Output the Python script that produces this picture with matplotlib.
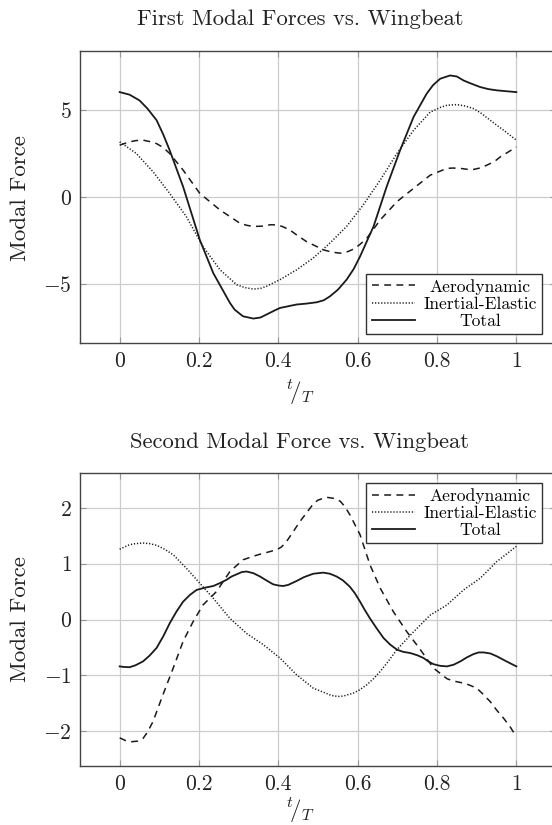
import matplotlib
matplotlib.use("Agg")
import matplotlib.pyplot as plt

plt.rcParams['font.family'] = 'serif'
plt.rcParams['font.serif'] = ['cmr10', 'DejaVu Serif']
plt.rcParams['mathtext.fontset'] = 'cm'
plt.rcParams['axes.formatter.use_mathtext'] = True
plt.rcParams['axes.unicode_minus'] = False

# first mode: t/T samples and modal force of each contribution
t1_total = [0, 0.025, 0.05, 0.07, 0.093, 0.11, 0.126, 0.16, 0.202, 0.236, 0.278, 0.29,
            0.311, 0.337, 0.355, 0.37, 0.39, 0.404, 0.425, 0.446, 0.47, 0.497, 0.515,
            0.53, 0.55, 0.572, 0.59, 0.606, 0.64, 0.673, 0.707, 0.741, 0.774, 0.79,
            0.808, 0.833, 0.85, 0.867, 0.885, 0.909, 0.93, 0.951, 0.975, 1.0]
f1_total = [6.05, 5.9, 5.57, 5.1, 4.43, 3.6, 2.7, 0.59, -2.47, -4.39, -6.11, -6.5,
            -6.88, -7.01, -6.95, -6.78, -6.55, -6.4, -6.3, -6.2, -6.15, -6.07, -5.95,
            -5.73, -5.35, -4.77, -4.15, -3.43, -1.7, 0.59, 2.7, 4.62, 5.96, 6.45,
            6.82, 7.01, 6.95, 6.72, 6.55, 6.34, 6.22, 6.15, 6.1, 6.05]

t1_aero = [0, 0.025, 0.04, 0.059, 0.075, 0.093, 0.11, 0.126, 0.16, 0.202, 0.253, 0.303,
           0.32, 0.337, 0.36, 0.38, 0.396, 0.41, 0.429, 0.45, 0.471, 0.514, 0.535, 0.556,
           0.575, 0.589, 0.605, 0.623, 0.657, 0.699, 0.741, 0.783, 0.825, 0.84, 0.859,
           0.875, 0.892, 0.91, 0.926, 0.945, 0.96, 0.98, 1.0]
f1_aero = [2.99, 3.18, 3.25, 3.28, 3.2, 3.08, 2.85, 2.51, 1.55, 0.21, -0.75, -1.51,
           -1.63, -1.7, -1.68, -1.6, -1.61, -1.7, -1.9, -2.25, -2.57, -3.05, -3.18, -3.24,
           -3.15, -3.01, -2.75, -2.38, -1.32, -0.27, 0.5, 1.26, 1.65, 1.67, 1.65,
           1.6, 1.59, 1.68, 1.84, 2.05, 2.32, 2.6, 2.89]

t1_inert = [0, 0.042, 0.084, 0.126, 0.168, 0.21, 0.253, 0.295, 0.315, 0.337, 0.355, 0.37,
            0.404, 0.446, 0.488, 0.53, 0.572, 0.614, 0.657, 0.699, 0.741, 0.783, 0.81,
            0.825, 0.85, 0.87, 0.892, 0.91, 0.934, 0.95, 0.968, 1.0]
f1_inert = [3.18, 2.51, 1.46, 0.21, -1.13, -2.85, -4.2, -5.06, -5.22, -5.31, -5.27, -5.15,
            -4.77, -4.2, -3.52, -2.66, -1.7, -0.46, 0.98, 2.51, 3.85, 4.9, 5.18,
            5.29, 5.33, 5.25, 5.1, 4.85, 4.43, 4.15, 3.85, 3.28]

# second mode
t2_total = [0, 0.01, 0.025, 0.04, 0.059, 0.075, 0.093, 0.11, 0.126, 0.143, 0.16, 0.177,
            0.194, 0.215, 0.236, 0.252, 0.269, 0.282, 0.295, 0.308, 0.32, 0.337, 0.354,
            0.37, 0.387, 0.4, 0.412, 0.425, 0.446, 0.465, 0.488, 0.513, 0.53, 0.547,
            0.563, 0.58, 0.593, 0.606, 0.618, 0.631, 0.648, 0.665, 0.682, 0.699, 0.715,
            0.732, 0.75, 0.766, 0.778, 0.791, 0.808, 0.825, 0.842, 0.859, 0.875, 0.892,
            0.905, 0.918, 0.935, 0.951, 0.975, 1.0]
f2_total = [-0.84, -0.85, -0.855, -0.82, -0.75, -0.65, -0.51, -0.3, -0.07, 0.14, 0.32, 0.44,
            0.53, 0.57, 0.6, 0.65, 0.71, 0.77, 0.81, 0.85, 0.86, 0.83, 0.77,
            0.7, 0.63, 0.61, 0.6, 0.62, 0.69, 0.76, 0.82, 0.84, 0.82, 0.77,
            0.7, 0.59, 0.47, 0.32, 0.17, 0.02, -0.16, -0.33, -0.45, -0.54, -0.58,
            -0.6, -0.64, -0.69, -0.75, -0.8, -0.83, -0.84, -0.81, -0.75, -0.68, -0.62,
            -0.59, -0.59, -0.61, -0.66, -0.75, -0.84]

t2_aero = [0, 0.015, 0.029, 0.045, 0.059, 0.07, 0.084, 0.109, 0.135, 0.16, 0.185, 0.21,
           0.244, 0.278, 0.311, 0.34, 0.354, 0.37, 0.396, 0.408, 0.421, 0.455, 0.488,
           0.5, 0.522, 0.54, 0.556, 0.568, 0.58, 0.606, 0.631, 0.657, 0.69, 0.724,
           0.758, 0.791, 0.825, 0.84, 0.867, 0.88, 0.9, 0.915, 0.934, 0.95, 0.968,
           0.985, 1.0]
f2_aero = [-2.12, -2.17, -2.19, -2.18, -2.13, -2.02, -1.83, -1.35, -0.87, -0.39, -0.04, 0.26,
           0.5, 0.86, 1.07, 1.14, 1.17, 1.2, 1.25, 1.3, 1.4, 1.76, 2.07,
           2.14, 2.19, 2.17, 2.12, 2.02, 1.88, 1.52, 0.98, 0.56, 0.14, -0.22,
           -0.54, -0.87, -1.06, -1.1, -1.14, -1.17, -1.23, -1.33, -1.47, -1.62, -1.77,
           -1.93, -2.1]

t2_inert = [0, 0.025, 0.04, 0.059, 0.075, 0.093, 0.113, 0.135, 0.168, 0.202, 0.236, 0.278,
            0.32, 0.362, 0.404, 0.446, 0.488, 0.53, 0.54, 0.556, 0.57, 0.589, 0.605,
            0.623, 0.64, 0.657, 0.676, 0.699, 0.741, 0.783, 0.825, 0.867, 0.909, 0.951,
            1.0]
f2_inert = [1.26, 1.34, 1.36, 1.37, 1.36, 1.33, 1.26, 1.16, 0.92, 0.65, 0.38, 0.02,
            -0.25, -0.45, -0.69, -0.99, -1.23, -1.35, -1.37, -1.38, -1.36, -1.32, -1.26,
            -1.17, -1.06, -0.93, -0.76, -0.54, -0.22, 0.08, 0.26, 0.53, 0.74, 1.04,
            1.31]

labels = ['Aerodynamic', 'Inertial-Elastic', 'Total']
x_ticks = [0, 0.2, 0.4, 0.6, 0.8, 1]
y1_ticks = [-5, 0, 5]
y2_ticks = [-2, -1, 0, 1, 2]

W, H = 552, 825
fig = plt.figure(figsize=(W / 100, H / 100), dpi=100)


def make_axes(top_px, bottom_px):
    left, right = 80, 556
    return fig.add_axes([left / W, 1 - bottom_px / H, (right - left) / W, (bottom_px - top_px) / H])


def style(ax, yticks):
    ax.set_xlim(-0.1, 1.1)
    ax.set_xticks(x_ticks)
    ax.set_xticklabels(['0', '0.2', '0.4', '0.6', '0.8', '1'])
    ax.set_yticks(yticks)
    ax.grid(True, color='#cccccc', linewidth=0.9)
    ax.set_axisbelow(True)
    for s in ax.spines.values():
        s.set_color('#444444')
        s.set_linewidth(1.0)
    ax.spines['right'].set_visible(False)
    ax.tick_params(direction='in', length=4, width=0.8, color='#999999',
                   top=True, right=True, labelsize=15.5, pad=6, labelcolor='#222222')


def legend(ax, loc, anchor):
    leg = ax.legend(loc=loc, bbox_to_anchor=anchor, bbox_transform=fig.transFigure,
                    fontsize=12.6, frameon=True, fancybox=False, framealpha=1,
                    edgecolor='#333333', handlelength=2.5, handletextpad=0.45,
                    borderpad=0.3, labelspacing=0.1, borderaxespad=0)
    leg.get_frame().set_linewidth(1.0)
    # centre the entry texts like a tabular column
    fig.canvas.draw()
    r = fig.canvas.get_renderer()
    widths = [t.get_window_extent(r).width for t in leg.get_texts()]
    wmax = max(widths)
    for t, w in zip(leg.get_texts(), widths):
        t.set_position(((wmax - w) / 2, 0))
    return leg


def draw(ax, data):
    (ta, fa), (ti, fi), (tt, ft) = data
    ax.plot(ta, fa, color='#1a1a1a', linestyle=(0, (4.5, 3.5)), linewidth=1.1,
            label=labels[0], solid_joinstyle='round')
    ax.plot(ti, fi, color='#1a1a1a', linestyle=(0, (0.8, 1.2)), linewidth=1.1,
            label=labels[1], solid_joinstyle='round')
    ax.plot(tt, ft, color='#1a1a1a', linestyle='-', linewidth=1.3,
            label=labels[2], solid_joinstyle='round')


ax1 = make_axes(51, 343)
draw(ax1, [(t1_aero, f1_aero), (t1_inert, f1_inert), (t1_total, f1_total)])
style(ax1, y1_ticks)
ax1.set_ylim(-8.42, 8.42)
legend(ax1, 'lower right', (542 / W, 1 - 334 / H))

ax2 = make_axes(473, 766)
draw(ax2, [(t2_aero, f2_aero), (t2_inert, f2_inert), (t2_total, f2_total)])
style(ax2, y2_ticks)
ax2.set_ylim(-2.625, 2.625)
legend(ax2, 'upper right', (542 / W, 1 - 483 / H))

# titles, axis labels
txt = dict(color='#222222', ha='center', va='center')
fig.text(300 / W, 1 - 19 / H, 'First Modal Forces vs. Wingbeat', fontsize=16.3, **txt)
fig.text(300 / W, 1 - 442 / H, 'Second Modal Force vs. Wingbeat', fontsize=16.3, **txt)
fig.text(300 / W, 1 - 392 / H, r'$^{t}\!/_{T}$', fontsize=16.5, **txt)
fig.text(300 / W, 1 - 810 / H, r'$^{t}\!/_{T}$', fontsize=16.5, **txt)
fig.text(20 / W, 1 - 198 / H, 'Modal Force', fontsize=16.5, rotation=90, **txt)
fig.text(20 / W, 1 - 619 / H, 'Modal Force', fontsize=16.5, rotation=90, **txt)

fig.savefig('out.png', dpi=100)
